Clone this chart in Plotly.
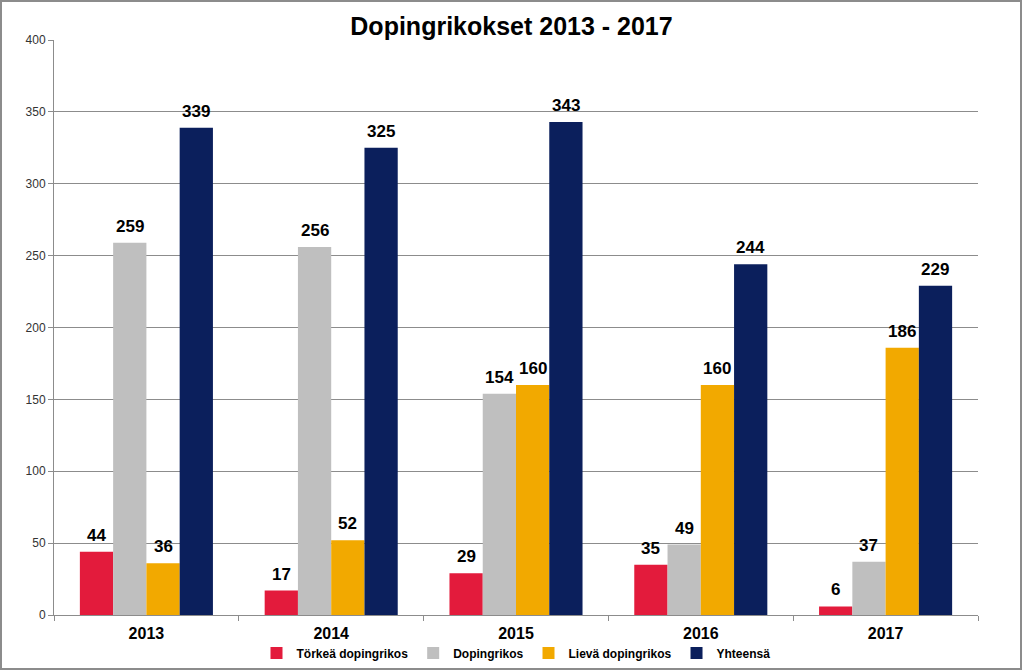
import plotly.graph_objects as go

years = ["2013", "2014", "2015", "2016", "2017"]
torkea = [44, 17, 29, 35, 6]
doping = [259, 256, 154, 49, 37]
lieva = [36, 52, 160, 160, 186]
yhteensa = [339, 325, 343, 244, 229]

series = [
    ("Törkeä dopingrikos", torkea, "#E31B3C"),
    ("Dopingrikos", doping, "#BFBFBF"),
    ("Lievä dopingrikos", lieva, "#F2A900"),
    ("Yhteensä", yhteensa, "#0B1F5C"),
]

W, H = 1023, 671
L, R, T, B = 54, 45, 40, 56
pw, ph = W - L - R, H - T - B
BARGAP = 0.28
bar_w = pw / len(years) * (1 - BARGAP) / len(series)

fig = go.Figure()
annotations = []
for i, (name, vals, col) in enumerate(series):
    fig.add_trace(go.Bar(
        x=years, y=vals, name=name, marker_color=col, marker_line_width=0,
    ))
    shift = (i - (len(series) - 1) / 2) * bar_w
    for j, v in enumerate(vals):
        annotations.append(dict(
            x=j, y=v, xref="x", yref="y", text=f"<b>{v}</b>", showarrow=False,
            xanchor="center", yanchor="bottom", xshift=shift, yshift=5,
            font=dict(family="Arial, Liberation Sans", size=17, color="#000000"),
        ))

fig.update_layout(
    width=W, height=H,
    margin=dict(l=L, r=R, t=T, b=B, autoexpand=False),
    paper_bgcolor="white", plot_bgcolor="white",
    barmode="group", bargap=BARGAP, bargroupgap=0,
    title=dict(text="<b>Dopingrikokset 2013 - 2017</b>", x=0.5, xanchor="center",
               y=1 - 26 / H, yanchor="middle",
               font=dict(family="Arial, Liberation Sans", size=25, color="#000000")),
    legend=dict(orientation="h", x=0.5, xanchor="center", y=-(653 - 615) / ph, yanchor="middle",
                font=dict(family="Arial, Liberation Sans", size=12, color="#000000", weight="bold"),
                itemwidth=30, traceorder="normal", tracegroupgap=0),
    font=dict(family="Arial, Liberation Sans"),
    annotations=annotations,
    shapes=[dict(type="rect", xref="paper", yref="paper",
                 x0=(1 - L) / pw, x1=(1021 - L) / pw,
                 y0=(T + ph - 669) / ph, y1=(T + ph - 1) / ph,
                 line=dict(color="#8C8C8C", width=2), fillcolor="rgba(0,0,0,0)", layer="below")],
)
fig.update_yaxes(range=[0, 400], dtick=50, showgrid=True, gridcolor="#8C8C8C", gridwidth=1,
                 showline=True, linecolor="#8C8C8C", linewidth=1, ticks="outside", ticklen=5,
                 tickcolor="#8C8C8C", tickfont=dict(size=12, color="#333333"), zeroline=False)
fig.update_xaxes(type="category", range=[-0.5, len(years) - 0.5],
                 showline=True, linecolor="#8C8C8C", linewidth=1,
                 ticks="outside", ticklen=5,
                 tickcolor="#8C8C8C", tickson="boundaries", ticklabelstandoff=4,
                 tickprefix="<b>", ticksuffix="</b>",
                 tickfont=dict(size=16, color="#000000"))

fig.write_html("out.html", config={"displayModeBar": False},
               post_script="document.body.style.margin='0';document.body.style.overflow='hidden';")
